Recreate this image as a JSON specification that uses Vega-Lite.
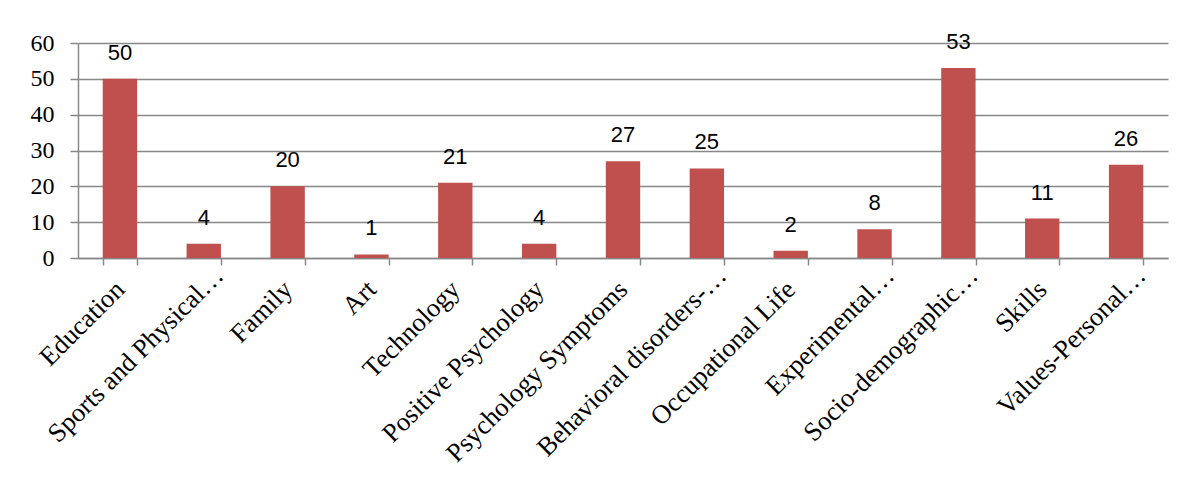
{
  "$schema": "https://vega.github.io/schema/vega-lite/v6.json",
  "autosize": {"type": "none"},
  "width": 1090,
  "height": 215,
  "padding": {"left": 78, "top": 43, "right": 14, "bottom": 219},
  "background": "white",
  "config": {"view": {"stroke": null}, "axis": {"labelFont": "Liberation Serif"}},
  "data": {
    "values": [
      {"category": "Education", "value": 50},
      {"category": "Sports and Physical…", "value": 4},
      {"category": "Family", "value": 20},
      {"category": "Art", "value": 1},
      {"category": "Technology", "value": 21},
      {"category": "Positive Psychology", "value": 4},
      {"category": "Psychology Symptoms", "value": 27},
      {"category": "Behavioral disorders-…", "value": 25},
      {"category": "Occupational Life", "value": 2},
      {"category": "Experimental…", "value": 8},
      {"category": "Socio-demographic…", "value": 53},
      {"category": "Skills", "value": 11},
      {"category": "Values-Personal…", "value": 26}
    ]
  },
  "encoding": {
    "x": {
      "field": "category",
      "type": "nominal",
      "sort": null,
      "scale": {"paddingInner": 0.59, "paddingOuter": 0.295},
      "axis": {
        "title": null,
        "labelAngle": -45,
        "labelAlign": "right",
        "labelBaseline": "middle",
        "labelFont": "Liberation Serif",
        "labelFontSize": 26.5,
        "labelColor": "black",
        "labelPadding": {"condition": {"test": "indexof(datum.label, '…') >= 0", "value": 6}, "value": 20},
        "labelOffset": {"condition": {"test": "indexof(datum.label, '…') >= 0", "value": 15}, "value": 0},
        "labelLimit": 400,
        "tickBand": "extent",
        "tickSize": 7,
        "tickColor": "#888888",
        "tickWidth": 1.5,
        "domainColor": "#888888",
        "domainWidth": 1.5,
        "grid": false
      }
    },
    "y": {
      "field": "value",
      "type": "quantitative",
      "scale": {"domain": [0, 60], "nice": false},
      "axis": {
        "title": null,
        "values": [0, 10, 20, 30, 40, 50, 60],
        "labelFont": "Liberation Serif",
        "labelFontSize": 24,
        "labelColor": "black",
        "labelPadding": 16,
        "tickSize": 8,
        "tickColor": "#888888",
        "tickWidth": 1.5,
        "domainColor": "#888888",
        "domainWidth": 1.5,
        "grid": true,
        "gridColor": "#888888",
        "gridWidth": 1.5
      }
    }
  },
  "layer": [
    {"mark": {"type": "bar", "color": "#C0504D"}},
    {
      "mark": {
        "type": "text",
        "font": "Liberation Sans",
        "fontSize": 22,
        "baseline": "alphabetic",
        "dy": -19,
        "color": "black"
      },
      "encoding": {"text": {"field": "value", "type": "quantitative"}}
    }
  ]
}
